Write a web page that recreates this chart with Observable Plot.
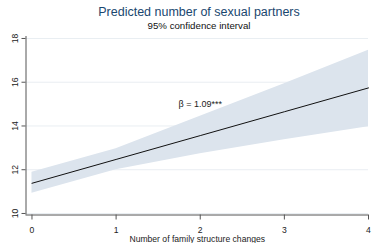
<!DOCTYPE html>
<html><head><meta charset="utf-8">
<script src="https://cdn.jsdelivr.net/npm/d3@7"></script>
<script src="https://cdn.jsdelivr.net/npm/@observablehq/plot@0.6"></script>
<style>
body{margin:0;background:#fff;font-family:"Liberation Sans",Arial,sans-serif;}
#wrap{position:relative;width:372px;height:243px;overflow:hidden;background:#fff}
#title{position:absolute;left:26px;right:0;top:6px;text-align:center;font-size:12.5px;line-height:12.5px;color:#1a476f;white-space:nowrap}
#subtitle{position:absolute;left:26px;right:0;top:21px;text-align:center;font-size:9.7px;line-height:9.7px;color:#111;white-space:nowrap}
#chart{position:absolute;left:0;top:32px}
</style></head>
<body>
<div id="wrap">
  <div id="title">Predicted number of sexual partners</div>
  <div id="subtitle">95% confidence interval</div>
  <div id="chart"></div>
</div>
<script>
const changes = [0, 1, 2, 3, 4];
const predicted = [11.38, 12.47, 13.56, 14.65, 15.74];
const lower = [10.92, 12.00, 12.73, 13.37, 13.96];
const upper = [11.88, 12.96, 14.45, 15.93, 17.46];
const xTicks = [0, 1, 2, 3, 4];
const yTicks = [10, 12, 14, 16, 18];
const xTitle = "Number of family structure changes";
const annotation = [{x: 2, y: 15, text: "β = 1.09***"}];
const xDomain = [-0.071, 4];
const yDomain = [9.93, 18.09];

const data = changes.map((c, i) => ({c, fit: predicted[i], lo: lower[i], hi: upper[i]}));

const plot = Plot.plot({
  width: 372,
  height: 211,
  marginLeft: 25.5,
  marginRight: 4,
  marginTop: 4,
  marginBottom: 28.5,
  style: {fontFamily: "Liberation Sans, Arial, sans-serif", background: "#fff", color: "#222"},
  x: {domain: xDomain},
  y: {domain: yDomain},
  marks: [
    Plot.ruleY(yTicks, {stroke: "#e9eef2", strokeWidth: 1}),
    Plot.areaY(data, {x: "c", y1: "lo", y2: "hi", fill: "#dce4ed"}),
    Plot.line(data, {x: "c", y: "fit", stroke: "#111", strokeWidth: 1}),
    Plot.ruleY([yDomain[0]], {stroke: "#555", strokeWidth: 1}),
    Plot.ruleX([xDomain[0]], {stroke: "#555", strokeWidth: 1}),
    Plot.axisY({ticks: yTicks, tickSize: 4, tickFormat: () => "", stroke: "#555"}),
    Plot.text(yTicks, {x: xDomain[0], y: d => d, text: d => String(d), rotate: -90, dx: -8, textAnchor: "middle", lineAnchor: "bottom", fontSize: 8.6, fill: "#222"}),
    Plot.axisX({ticks: xTicks, tickSize: 5, tickPadding: 6.5, tickFormat: d => String(d), fontSize: 8.6, label: null, stroke: "#555", fill: "#222"}),
    Plot.text([xTitle], {frameAnchor: "bottom", text: d => d, dy: 27, lineAnchor: "bottom", fontSize: 8.6, fill: "#222"}),
    Plot.text(annotation, {x: "x", y: "y", text: "text", fontSize: 9, fill: "#222"})
  ]
});
document.getElementById("chart").appendChild(plot);
</script>
</body></html>
